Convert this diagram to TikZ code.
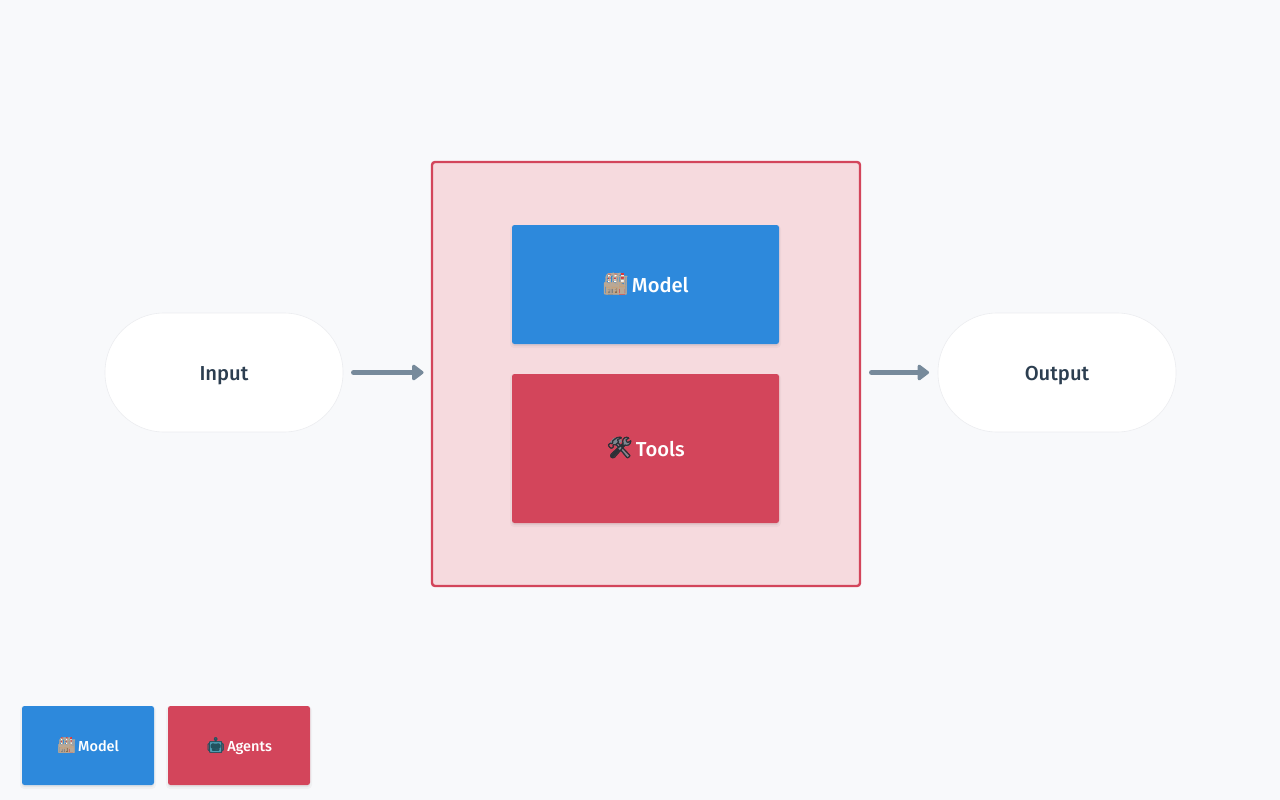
\documentclass[tikz,border=0pt]{standalone}
\usepackage{fontspec}
\setmainfont{Fira Sans}[UprightFont=* Medium]
\newfontfamily\emojifont[FakeBold=1.5]{Noto Emoji}
\usetikzlibrary{arrows.meta}
\definecolor{pagebg}{HTML}{F8F9FB}
\definecolor{modelblue}{HTML}{2D89DC}
\definecolor{toolred}{HTML}{D3455B}
\definecolor{groupfill}{HTML}{F6DADE}
\definecolor{arrowgrey}{HTML}{778A9B}
\definecolor{inktext}{HTML}{2C3E50}
\definecolor{pillline}{HTML}{ECEDF0}
\definecolor{factorytan}{HTML}{C5A27C}
\definecolor{factoryink}{HTML}{8A6E50}
\definecolor{stackred}{HTML}{D8393F}
\definecolor{toolgrey}{HTML}{7D8791}
\definecolor{tooldark}{HTML}{2B3036}
\definecolor{robotteal}{HTML}{4F9DB3}
\definecolor{robotdark}{HTML}{22525F}
\tikzset{
  softshadow/.style={
    preaction={fill=black,fill opacity=0.05,draw=black,draw opacity=0.03,line width=4pt,transform canvas={yshift=-2pt}}},
  card/.style={rectangle,rounded corners=2.5pt,fill=#1,text=white,inner sep=0pt,outer sep=0pt,softshadow},
  bigcard/.style={card=#1,font=\fontsize{20.2}{25}\selectfont},
  legendcard/.style={card=#1,font=\fontsize{14.5}{18}\selectfont},
  pill/.style={rectangle,rounded corners=59pt,fill=white,draw=pillline,line width=.6pt,text=inktext,
    minimum width=238pt,minimum height=119pt,inner sep=0pt,outer sep=0pt,
    font=\fontsize{20.2}{25}\selectfont},
  group/.style={rectangle,rounded corners=3pt,fill=groupfill,draw=toolred,line width=2.4pt,
    minimum width=428pt,minimum height=424pt,inner sep=0pt,outer sep=0pt},
  flow/.style={draw=arrowgrey,line width=5pt,line cap=round,-{Triangle[width=18pt,length=12.5pt,round]}},
  glyph/.style={inner sep=0pt,outer sep=0pt,minimum width=0pt,minimum height=0pt}
}
% Each emoji is its real glyph, laid over a small colour backing.
\newcommand{\glyphat}[3]{\pgfmathsetmacro{\emsize}{#1*21}%
  \node[glyph,text=#2,font=\emojifont\fontsize{\emsize}{\emsize}\selectfont] at (11,11) {#3};}
\newcommand{\factoryicon}[1]{\begin{tikzpicture}[x=#1pt,y=-#1pt,baseline={#1*(-20pt)},sharp corners]
  \foreach \sx in {3,9.5,16}{
    \fill[white] (\sx,0) rectangle +(3,9);
    \fill[stackred] (\sx,0) rectangle +(3,2.2);
    \fill[stackred] (\sx,4.2) rectangle +(3,2.2);}
  \fill[factorytan] (1,22) -- (1,9) -- (7.5,13) -- (7.5,9) -- (14,13) -- (14,9) -- (21,13) -- (21,22) -- cycle;
  \fill[gray] (3,16) rectangle (8.5,22);
  \fill[stackred] (14.5,16) rectangle (20,22);
  \fill[factoryink] (10.3,15) rectangle (12.5,20);
  \glyphat{#1}{factoryink!60}{🏭}
\end{tikzpicture}}
\newcommand{\toolsicon}[1]{\begin{tikzpicture}[x=#1pt,y=-#1pt,baseline={#1*(-20pt)},sharp corners]
  \draw[tooldark,line width=#1*3pt,line cap=round] (3,20) -- (16,7);
  \draw[toolgrey,line width=#1*2.6pt,line cap=round] (19,20) -- (6,6);
  \fill[toolgrey] (1,6) -- (5,1.5) -- (11,0.5) -- (13,5) -- (8,9) -- cycle;
  \fill[toolgrey] (14,7) -- (17,1) -- (21,1) -- (18,4) -- (20,7) -- (22,4) -- (22,7) -- (18,10) -- cycle;
  \glyphat{#1}{tooldark}{🛠}
\end{tikzpicture}}
\newcommand{\roboticon}[1]{\begin{tikzpicture}[x=#1pt,y=-#1pt,baseline={#1*(-20pt)},sharp corners]
  \fill[robotteal,rounded corners=#1*4pt] (2,6) rectangle (20,21);
  \fill[robotdark,rounded corners=#1*2pt] (4,9) rectangle (18,16);
  \fill[stackred!70!white] (11,2.5) circle[radius=2];
  \fill[gray] (10.3,3) rectangle (11.7,6);
  \glyphat{#1}{robotdark}{🤖}
\end{tikzpicture}}
\newcommand{\dropped}[2]{\raisebox{-#1pt}[0pt][0pt]{#2}}
\begin{document}
\begin{tikzpicture}[x=1pt,y=-1pt]
\useasboundingbox (0,0) rectangle (1280,800);
\fill[pagebg] (0,0) rectangle (1280,800);
\node[group] (agents) at (646,374) {};
\node[bigcard=modelblue,minimum width=267pt,minimum height=119pt] (model) at (645.5,284.5)
  {\dropped{8}{\factoryicon{1}\hspace{3pt}Model}};
\node[bigcard=toolred,minimum width=267pt,minimum height=149pt] (tools) at (645.5,448.5)
  {\dropped{8}{\toolsicon{1}\hspace{3pt}Tools}};
\node[pill] (input) at (224,372.5) {\dropped{8}{Input}};
\node[pill] (output) at (1057,372.5) {\dropped{8}{Output}};
\draw[flow,shorten <=10.5pt,shorten >=8.5pt] (input) -- (input -| agents.west);
\draw[flow,shorten <=11.5pt,shorten >=9pt] (output -| agents.east) -- (output);
\node[legendcard=modelblue,minimum width=132pt,minimum height=79pt] (legendmodel) at (88,745.5)
  {\dropped{6}{\factoryicon{.72}\hspace{2pt}Model}};
\node[legendcard=toolred,minimum width=142pt,minimum height=79pt] (legendagents) at (239,745.5)
  {\dropped{6}{\roboticon{.72}\hspace{2pt}Agents}};
\end{tikzpicture}
\end{document}
